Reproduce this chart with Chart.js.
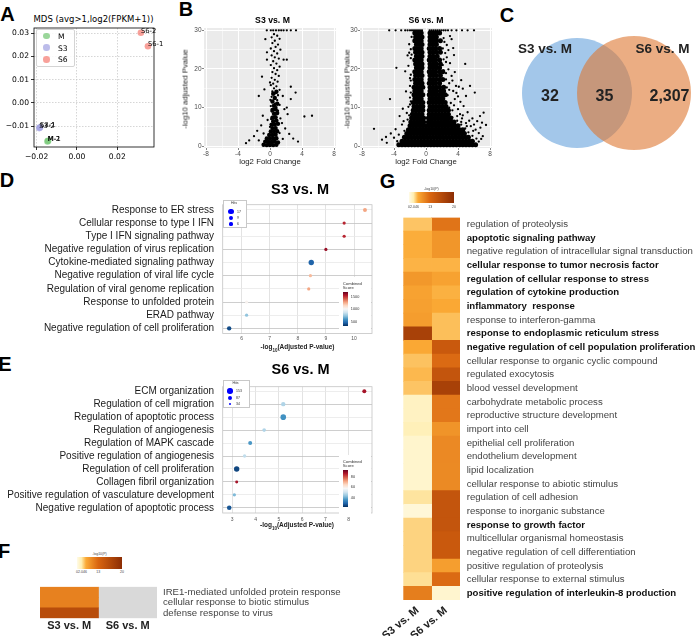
<!DOCTYPE html>
<html><head><meta charset="utf-8"><title>Figure</title>
<script src="https://cdn.jsdelivr.net/npm/chart.js"></script>
<style>
html,body{margin:0;padding:0;background:#fff;}
#root{position:relative;width:696px;height:636px;overflow:hidden;font-family:"Liberation Sans",Arial,sans-serif;color:#000;background:#fff;}
#root canvas{position:absolute;}
.t{position:absolute;white-space:nowrap;line-height:1;}
.box{position:absolute;box-sizing:border-box;}
</style></head>
<body><div id="root"></div>
<script>
// ================= DATA =================
// Panel A (MDS)
const mdsSamples=['M-1','M-2','S3-1','S3-2','S6-1','S6-2'];
const mdsGroupOf=['M','M','S3','S3','S6','S6'];
const mdsX=[-0.0143,-0.0146,-0.0183,-0.0187,0.0352,0.0317];
const mdsY=[-0.0162,-0.0165,-0.0105,-0.0108,0.0243,0.0301];
const mdsGroups=['M','S3','S6'];
const aXTicks=[-0.02,0.00,0.02];
const aYTicks=[-0.01,0.00,0.01,0.02,0.03];

// Panel B (volcano) [log2FC, -log10 padj]
const volXTicks=[-8,-4,0,4,8];
const volYTicks=[0,10,20,30];
const volXGrid=[-8,-6,-4,-2,0,2,4,6,8];
const volYGrid=[0,5,10,15,20,25,30];
const s3Core=[
[-0.8,0.4],[-0.4,0.3],[0,0.3],[0.4,0.3],[0.8,0.4],
[-0.6,1.2],[-0.2,1.1],[0.2,1.1],[0.6,1.2],[1.0,1.0],
[-0.4,2.0],[0,2.0],[0.4,2.0],[0.8,2.1],
[-0.1,2.9],[0.3,2.9],[0.7,3.0],[0.1,3.8],[0.5,3.8],[0.9,3.9],
[0.3,4.7],[0.7,4.7],[0.2,5.6],[0.6,5.6],[1.0,5.8],[0.4,6.5],[0.8,6.6],
[0.3,7.4],[0.7,7.5],[0.5,8.4],[0.9,8.6],[0.3,9.4],[0.7,9.6],
[0.5,10.5],[0.9,11.0],[0.3,11.6],[0.6,12.5],[0.4,13.6],[0.8,14.1]];
const s3TopX=[-0.4,0.1,0.4,0.75,1.1,1.4,1.7,2.1,2.6,3.25];
const s3Scatter=[
[0.5,29],[0.9,28.6],[0.2,28.2],[1.2,27.8],[0.6,27.3],[-0.58,27.7],[0.3,26.7],[1.0,26.3],[0.7,25.7],[0.1,25.3],
[1.3,25.0],[0.5,24.6],[-0.38,24.3],[0.9,24.0],[0.2,23.5],[0.6,23.0],[1.1,22.7],[-0.38,22.4],[1.7,22.4],[2.1,22.4],
[0.4,22.0],[0.8,21.4],[0.1,21.0],[1.2,20.6],[0.5,20.2],[0.9,19.7],[0.3,19.2],[0.7,18.7],[-1.0,18.0],[1.1,18.2],
[0.2,17.7],[0.6,17.2],[0.95,16.7],[0.4,16.2],[0.1,15.8],[0.8,15.5],[2.6,15.4],[-0.7,14.7],[0.5,15.0],[1.2,14.6],
[0.3,14.2],[3.2,13.9],[0.7,13.7],[1.0,13.2],[-1.4,13.0],[1.6,13.0],[0.2,12.8],[0.5,12.4],[2.6,12.2],[0.9,11.9],
[0.3,11.5],[0.6,11.0],[1.2,10.7],[0.1,10.4],[2.1,10.0],[0.8,10.1],[0.4,9.7],[1.8,9.6],[1.0,9.2],[0.2,9.0],
[0.6,8.6],[2.2,8.3],[-0.9,7.9],[5.25,7.9],[4.3,7.7],[1.3,7.2],[-0.3,6.8],[1.5,6.0],[-1.1,5.4],[1.9,4.6],
[-1.6,4.0],[2.4,3.2],[-2.0,2.6],[2.9,2.0],[-2.6,1.5],[3.5,1.2],[-3.0,0.8],[1.6,1.9],[-1.4,1.5],[1.2,3.4],
[-0.8,3.3],[0.0,5.0],[0.15,7.0],[0.05,12.0],[0.0,16.5]];
const s6CoreRows=[
[29.3,-1.4,-1.0,-0.6,0.5,0.9,1.3,1.7],
[28.3,-1.3,-0.9,-0.5,0.5,0.9,1.3],
[27.3,-1.4,-1.0,-0.6,0.5,0.9,1.3,1.8],
[26.3,-1.2,-0.8,-0.5,0.5,0.9,1.3],
[25.3,-1.4,-1.0,-0.6,0.4,0.8,1.2,1.7],
[24.3,-1.3,-0.9,-0.5,0.5,0.9,1.3,1.8],
[23.3,-1.2,-0.8,-0.5,0.5,0.9,1.4],
[22.3,-1.4,-1.0,-0.6,0.4,0.8,1.2,1.7],
[21.3,-1.3,-0.9,-0.5,0.5,0.9,1.3,1.8],
[20.3,-1.2,-0.8,-0.5,0.5,0.9,1.3,1.7],
[19.3,-1.4,-1.0,-0.6,0.4,0.8,1.2,1.7,2.1],
[18.3,-1.3,-0.9,-0.5,0.5,0.9,1.3,1.8],
[17.3,-1.4,-1.0,-0.6,0.5,0.9,1.3,1.7,2.1],
[16.3,-1.3,-0.9,-0.5,0.4,0.8,1.2,1.7],
[15.3,-1.5,-1.1,-0.7,-0.4,0.5,0.9,1.3,1.7,2.2],
[14.3,-1.4,-1.0,-0.6,0.5,0.9,1.3,1.8,2.2],
[13.3,-1.5,-1.1,-0.7,-0.4,0.4,0.8,1.2,1.6,2.0,2.4],
[12.3,-1.4,-1.0,-0.6,0.5,0.9,1.3,1.7,2.1],
[11.3,-1.6,-1.2,-0.8,-0.4,0.4,0.8,1.2,1.6,2.0,2.4],
[10.3,-1.5,-1.1,-0.7,-0.4,0.5,0.9,1.3,1.7,2.1,2.5],
[9.3,-1.6,-1.2,-0.8,-0.4,0.4,0.8,1.2,1.6,2.0,2.4,2.8],
[8.3,-1.7,-1.3,-0.9,-0.5,0.4,0.8,1.2,1.6,2.0,2.4,2.8],
[7.3,-1.8,-1.4,-1.0,-0.6,-0.3,0.3,0.7,1.1,1.5,1.9,2.3,2.7,3.1],
[6.3,-1.9,-1.5,-1.1,-0.7,-0.3,0.3,0.7,1.1,1.5,1.9,2.3,2.7,3.1,3.5],
[5.3,-2.0,-1.6,-1.2,-0.8,-0.4,0,0.4,0.8,1.2,1.6,2.0,2.4,2.8,3.2,3.6,4.0],
[4.3,-2.2,-1.8,-1.4,-1.0,-0.6,-0.2,0.2,0.6,1.0,1.4,1.8,2.2,2.6,3.0,3.4,3.8,4.2,4.6],
[3.3,-2.4,-2.0,-1.6,-1.2,-0.8,-0.4,0,0.4,0.8,1.2,1.6,2.0,2.4,2.8,3.2,3.6,4.0,4.4,4.8],
[2.3,-2.7,-2.3,-1.9,-1.5,-1.1,-0.7,-0.3,0.1,0.5,0.9,1.3,1.7,2.1,2.5,2.9,3.3,3.7,4.1,4.5,4.9,5.3],
[1.3,-3.0,-2.6,-2.2,-1.8,-1.4,-1.0,-0.6,-0.2,0.2,0.6,1.0,1.4,1.8,2.2,2.6,3.0,3.4,3.8,4.2,4.6,5.0,5.4,5.8],
[0.4,-3.4,-3.0,-2.6,-2.2,-1.8,-1.4,-1.0,-0.6,-0.2,0.2,0.6,1.0,1.4,1.8,2.2,2.6,3.0,3.4,3.8,4.2,4.6,5.0,5.4,5.8,6.2]];
const s6TopX=[-4.6,-3.8,-3.1,-2.6,-2.3,-2.0,-1.75,-1.5,-1.25,-1.0,-0.75,-0.5,0.45,0.7,0.95,1.2,1.45,1.7,1.95,2.2,2.45,2.75,3.2,3.8,4.5,5.2,6.0];
const s6Scatter=[
[-3.7,20.3],[-2.2,20.8],[-2.1,26.4],[-1.9,25.1],[-2.0,15.6],[-4.5,12.2],[-1.9,22.8],[-1.9,18.5],[-2.0,12.6],[-2.0,10.8],
[-2.4,8.6],[-2.3,6.9],[-3.0,5.6],[-2.7,4.0],[-3.4,3.0],[-4.0,2.2],[-4.9,0.9],[-5.5,1.7],[-6.5,4.5],[-3.6,1.3],
[-1.8,28.3],[-1.8,23.7],[-1.9,17.0],[-1.9,13.9],[-2.9,9.7],[-2.1,8.0],
[-2.3,23.5],[-2.0,17.6],[-2.5,14.2],[-2.2,10.2],[-3.3,7.8],[-2.8,6.5],[-3.8,4.4],[-4.4,3.3],[-5.0,2.4],[-2.1,24.2],[-1.9,11.6],[-2.6,19.4],
[3.0,28.5],[3.2,27.7],[2.2,22.5],[2.8,19.9],[3.75,15.6],[3.6,12.2],[5.5,15.6],[6.1,13.9],[4.7,10.4],[6.75,7.8],
[7.2,8.7],[4.25,8.3],[2.2,28.0],[2.1,25.3],[2.4,24.1],[2.1,21.0],[2.5,18.9],[2.5,17.3],[2.6,15.2],[2.7,13.2],
[3.1,11.2],[2.9,10.0],[3.3,9.3],[3.3,7.5],[3.9,6.6],[4.4,5.6],[4.9,4.6],[5.3,3.6],[5.8,2.7],[6.3,2.0],
[6.6,1.2],[4.5,7.2],[5.0,6.0],[5.6,5.2],[6.2,4.3],[7.0,6.1],[7.5,5.5],[3.4,14.3],[4.0,12.9],[2.9,16.3],
[3.2,18.2],[4.4,17.1],[2.6,26.2],[3.5,23.6],[4.9,21.3],[2.8,24.9],
[2.3,27.0],[2.6,23.0],[3.0,21.5],[2.2,19.6],[3.3,17.0],[2.9,14.6],[3.8,13.8],[4.3,11.5],[3.5,10.6],[4.0,9.6],
[5.2,8.8],[4.6,8.0],[5.8,7.2],[6.4,6.5],[3.9,7.8],[5.4,6.6],[6.0,5.6],[6.8,4.8],[4.4,6.3],[5.1,5.2],
[6.6,3.4],[7.1,2.6],[5.9,4.0],[6.9,1.9],[3.6,19.2],[4.1,15.4],[5.0,13.0],[4.6,14.9],[2.5,21.8],[3.4,25.4]];

// Panel C (Venn)
const vennSets=['S3 vs. M','S6 vs. M'];
const vennCounts=[32,35,2307];

// Panel D (S3 vs. M enrichment)
const dTerms=['Response to ER stress','Cellular response to type I IFN','Type I IFN signaling pathway','Negative regulation of virus replication','Cytokine-mediated signaling pathway','Negative regulation of viral life cycle','Regulation of viral genome replication','Response to unfolded protein','ERAD pathway','Negative regulation of cell proliferation'];
const dLogP=[10.39,9.65,9.65,9.0,8.48,8.45,8.39,6.18,6.18,5.56];
const dHits=[9,6,6,6,17,6,6,6,6,11];
const dScore=[1290,1540,1540,1610,470,1240,1290,1040,750,410];
const dXTicks=[6,7,8,9,10];
const dHitsLegend=[17,9,6];
const dScoreTicks=[1500,1000,500];
const dScoreRange=[340,1700];

// Panel E (S6 vs. M enrichment)
const eTerms=['ECM organization','Regulation of cell migration','Regulation of apoptotic process','Regulation of angiogenesis','Regulation of MAPK cascade','Positive regulation of angiogenesis','Regulation of cell proliferation','Collagen fibril organization','Positive regulation of vasculature development','Negative regulation of apoptotic process'];
const eLogP=[8.67,5.19,5.19,4.37,3.77,3.53,3.19,3.19,3.09,2.87];
const eHits=[84,100,165,70,84,60,153,47,60,111];
const eScore=[88,47,36,47,37,49,25,88,42,27];
const eXTicks=[3,4,5,6,7,8];
const eHitsLegend=[153,87,34];
const eScoreTicks=[80,60,40];
const eScoreRange=[22,94];

// Panel F heatmap (-log10 P)
const fTerms=['IRE1-mediated unfolded protein response','cellular response to biotic stimulus','defense response to virus'];
const fCols=['S3 vs. M','S6 vs. M'];
const fS3=[10.2,10.2,16];
const fS6=[null,null,null];

// Panel G heatmap (-log10 P)
const gTerms=['regulation of proteolysis','apoptotic signaling pathway','negative regulation of intracellular signal transduction','cellular response to tumor necrosis factor','regulation of cellular response to stress','regulation of cytokine production','inflammatory  response','response to interferon-gamma','response to endoplasmic reticulum stress','negative regulation of cell population proliferation','cellular response to organic cyclic compound','regulated exocytosis','blood vessel development','carbohydrate metabolic process','reproductive structure development','import into cell','epithelial cell proliferation','endothelium development','lipid localization','cellular response to abiotic stimulus','regulation of cell adhesion','response to inorganic substance','response to growth factor','multicellular organismal homeostasis','negative regulation of cell differentiation','positive regulation of proteolysis','cellular response to external stimulus','positive regulation of interleukin-8 production'];
const gBold=[0,1,0,1,1,1,1,0,1,1,0,0,0,0,0,0,0,0,0,0,0,0,1,0,0,0,0,1];
const gCols=['S3 vs. M','S6 vs. M'];
const gS3=[4.5,5.8,5.8,5.5,7.8,6.8,7,7.3,17.5,6.2,4.6,5.2,4.5,1.4,1.4,1.7,1.0,1.0,1.0,1.0,2.6,0.6,3.6,3.6,3.6,3.6,2.9,10.5];
const gS6=[11.5,8,8,5.5,6.8,5.6,6.2,4.8,4.8,14.5,12.5,15,17.5,11.2,11.2,8.2,9.3,9.3,9.2,9.2,15,15,15,14.5,14.5,7.2,12.5,0.9];
const heatTicks=[0,2.04,6,13,20];

// ================= STYLE =================
const A_COL=['rgba(120,200,120,0.75)','rgba(160,160,225,0.7)','rgba(245,130,120,0.75)'];
const RDBU=[[0,'#053061'],[0.1,'#2166ac'],[0.2,'#4393c3'],[0.3,'#92c5de'],[0.4,'#d1e5f0'],[0.5,'#f7f7f7'],[0.6,'#fddbc7'],[0.7,'#f4a582'],[0.8,'#d6604d'],[0.9,'#b2182b'],[1,'#67001f']];
const HEAT_COL=['#fffbe8','#ffeeb0','#fbaa35','#d96510','#8c2d04'];
const HEAT=heatTicks.map((v,i)=>[v,HEAT_COL[i]]);
const heatBarPos=[0,0.1,0.2,0.47,1];
const VENN_LAYOUT=[{x:77,y:68,r:55},{x:134,y:68,r:57}];
const VENN_COL=['rgba(163,199,234,1)','rgba(222,118,48,0.6)'];

Chart.defaults.animation=false;
Chart.defaults.font.family='"Liberation Sans", Arial, sans-serif';
Chart.defaults.plugins.legend.display=false;
Chart.defaults.plugins.tooltip.enabled=false;
Chart.defaults.events=[];
Chart.defaults.layout.autoPadding=false;

const root=document.getElementById('root');
function canvasAt(l,t,w,h){const c=document.createElement('canvas');c.width=w;c.height=h;c.style.left=l+'px';c.style.top=t+'px';c.style.width=w+'px';c.style.height=h+'px';root.appendChild(c);return c;}
function text(html,x,y,css,ax,ay,rot){const d=document.createElement('div');d.className='t';d.innerHTML=html;d.style.cssText+=`left:${x}px;top:${y}px;`+(css||'');const tx={l:'0',c:'-50%',r:'-100%'}[ax||'c'];const ty={t:'0',m:'-50%',b:'-100%'}[ay||'m'];d.style.transform=`translate(${tx},${ty})`+(rot?` rotate(${rot}deg)`:'');root.appendChild(d);return d;}
function box(x,y,w,h,css){const d=document.createElement('div');d.className='box';d.style.cssText+=`left:${x}px;top:${y}px;width:${w}px;height:${h}px;`+(css||'');root.appendChild(d);return d;}
function hexToRgb(h){return [parseInt(h.slice(1,3),16),parseInt(h.slice(3,5),16),parseInt(h.slice(5,7),16)];}
function interp(stops,v){
  if(v<=stops[0][0])return 'rgb('+hexToRgb(stops[0][1]).join(',')+')';
  for(let i=1;i<stops.length;i++){if(v<=stops[i][0]){const p0=stops[i-1][0],p1=stops[i][0];const a=hexToRgb(stops[i-1][1]),b=hexToRgb(stops[i][1]);const t=(v-p0)/(p1-p0);return 'rgb('+a.map((x,k)=>Math.round(x+(b[k]-x)*t)).join(',')+')';}}
  return 'rgb('+hexToRgb(stops[stops.length-1][1]).join(',')+')';
}
const setTicks=arr=>(s=>{s.ticks=arr.map(v=>({value:v}));});
const fixW=w=>(s=>{s.width=w;});
const fixH=h=>(s=>{s.height=h;});
const frame=(col,lw)=>({id:'frame',afterDraw(ch){const a=ch.chartArea,c=ch.ctx;c.save();c.strokeStyle=col;c.lineWidth=lw;c.strokeRect(a.left,a.top,a.right-a.left,a.bottom-a.top);c.restore();}});
const panelBg=col=>({id:'panelBg',beforeDraw(ch){const a=ch.chartArea,c=ch.ctx;c.save();c.fillStyle=col;c.fillRect(a.left,a.top,a.right-a.left,a.bottom-a.top);c.restore();}});
const fmt2=v=>(v<0?'\u2212':'')+Math.abs(v).toFixed(2);

// ================= PANEL LETTERS =================
[['A',7.5,13.5],['B',186,8.5],['C',507,15],['D',7,179.5],['E',5,364],['F',4,551],['G',387.5,180.5]].forEach(l=>text(l[0],l[1],l[2],'font:bold 20px "Liberation Sans",Arial,sans-serif;'));

// ================= PANEL A =================
text('MDS (avg&gt;1,log2(FPKM+1))',93.5,18.5,'font:8.5px "DejaVu Sans";');
const cA=canvasAt(0,0,172,165);
new Chart(cA,{type:'scatter',
  data:{datasets:mdsGroups.map((g,gi)=>({label:g,data:mdsSamples.map((s,i)=>({x:mdsX[i],y:mdsY[i],name:s,g:mdsGroupOf[i]})).filter(p=>p.g===g),backgroundColor:A_COL[gi],pointRadius:3.3,borderWidth:0}))},
  options:{responsive:false,layout:{padding:{top:28,right:18,left:0,bottom:0}},
    scales:{
      x:{type:'linear',min:-0.0213,max:0.0382,afterBuildTicks:setTicks(aXTicks),afterFit:fixH(18),
        ticks:{callback:v=>fmt2(v),font:{family:'"DejaVu Sans"',size:7.6},color:'#000',padding:2,maxRotation:0,autoSkip:false},
        grid:{color:'#c4c4c4',lineWidth:0.7,tickColor:'#000',tickLength:3,tickWidth:0.8},border:{display:false,dash:[1.5,1.5]}},
      y:{type:'linear',min:-0.0189,max:0.03215,afterBuildTicks:setTicks(aYTicks),afterFit:fixW(34),
        ticks:{callback:v=>fmt2(v),font:{family:'"DejaVu Sans"',size:7.6},color:'#000',padding:2,autoSkip:false},
        grid:{color:'#c4c4c4',lineWidth:0.7,tickColor:'#000',tickLength:3,tickWidth:0.8},border:{display:false,dash:[1.5,1.5]}}}},
  plugins:[frame('#000',0.8),{id:'mdsLabels',afterDatasetsDraw(ch){const c=ch.ctx;c.save();c.font='6.8px "DejaVu Sans"';c.fillStyle='#000';ch.data.datasets.forEach((ds,di)=>{ch.getDatasetMeta(di).data.forEach((el,i)=>{c.fillText(ds.data[i].name,el.x,el.y);});});c.restore();}}]
});
box(36,29,39,38,'border:0.8px solid #d4d4d4;border-radius:2px;background:rgba(255,255,255,0.85);');
mdsGroups.forEach((g,i)=>{const y=36+i*11.7;box(43.4,y-3.3,6.6,6.6,`border-radius:50%;background:${A_COL[i]};`);text(g,58,y,'font:7.6px "DejaVu Sans";','l','m');});

// ================= PANEL B =================
function volcano(cv,core,scat,coreR,padR,yW){
  const major=(arr,c)=>c.tick&&arr.includes(c.tick.value);
  return new Chart(cv,{type:'scatter',data:{datasets:[
      {data:core.map(p=>({x:p[0],y:p[1]})),pointRadius:coreR,backgroundColor:'#000',borderWidth:0},
      {data:scat.map(p=>({x:p[0],y:p[1]})),pointRadius:1.15,backgroundColor:'#000',borderWidth:0}]},
    options:{responsive:false,layout:{padding:{top:6,right:padR}},
      scales:{
        x:{type:'linear',min:-8.25,max:8.25,afterBuildTicks:setTicks(volXGrid),afterFit:fixH(24),
          ticks:{callback:v=>volXTicks.includes(v)?String(v):'',font:{size:6.5},color:'#4d4d4d',padding:0.5,maxRotation:0,autoSkip:false},
          grid:{color:'#ffffff',lineWidth:c=>major(volXTicks,c)?1:0.5,tickColor:c=>major(volXTicks,c)?'#333':'rgba(0,0,0,0)',tickLength:2,tickWidth:0.6},border:{display:false}},
        y:{type:'linear',min:-0.45,max:30.6,afterBuildTicks:setTicks(volYGrid),afterFit:fixW(yW),
          ticks:{callback:v=>volYTicks.includes(v)?String(v):'',font:{size:6.5},color:'#4d4d4d',padding:0.5,autoSkip:false},
          grid:{color:'#ffffff',lineWidth:c=>major(volYTicks,c)?1:0.5,tickColor:c=>major(volYTicks,c)?'#333':'rgba(0,0,0,0)',tickLength:2,tickWidth:0.6},border:{display:false}}}},
    plugins:[panelBg('#ebebeb')]});
}
volcano(canvasAt(178,22,160,150),s3Core,s3Scatter.concat(s3TopX.map(x=>[x,30])),2.2,2,26);
const s6Core=[];s6CoreRows.forEach(r=>{for(let i=1;i<r.length;i++)s6Core.push([r[i],r[0]]);});
volcano(canvasAt(338,22,157,150),s6Core,s6Scatter.concat(s6TopX.map(x=>[x,30])),2.5,3,22);
text('S3 vs. M',272.5,20,'font:bold 8.7px "Liberation Sans";');
text('S6 vs. M',426,19.5,'font:bold 8.7px "Liberation Sans";');
text('-log10 adjusted Pvalue',185,88.5,'font:7.8px "Liberation Sans";color:#1a1a1a;','c','m',-90);
text('-log10 adjusted Pvalue',347,88.5,'font:7.8px "Liberation Sans";color:#1a1a1a;','c','m',-90);
text('log2 Fold Change',270,161,'font:7.8px "Liberation Sans";color:#1a1a1a;');
text('log2 Fold Change',426,161,'font:7.8px "Liberation Sans";color:#1a1a1a;');

// ================= PANEL C =================
new Chart(canvasAt(500,25,196,140),{type:'bubble',
  data:{datasets:vennSets.map((s,i)=>({label:s,order:vennSets.length-i,data:[{x:VENN_LAYOUT[i].x,y:VENN_LAYOUT[i].y,r:VENN_LAYOUT[i].r}],backgroundColor:VENN_COL[i],borderWidth:0,radius:0}))},
  options:{responsive:false,clip:false,layout:{padding:0,autoPadding:false},scales:{x:{display:false,min:0,max:196},y:{display:false,min:0,max:140,reverse:true}}}});
text(vennSets[0],545,48,'font:bold 13.5px "Liberation Sans";color:#222;');
text(vennSets[1],662.5,48,'font:bold 13.5px "Liberation Sans";color:#222;');
const vennPos=[550,604.5,669.5];
vennCounts.forEach((n,i)=>text(n.toLocaleString('en-US'),vennPos[i],96,'font:bold 16px "Liberation Sans";color:#222;'));

// ================= PANELS D & E =================
function enrich(cv,terms,logp,hits,score,xT,xr,yr,rK,cr,xH,xPad){
  return new Chart(cv,{type:'bubble',
    data:{datasets:[{data:terms.map((t,i)=>({x:logp[i],y:i,r:rK*Math.sqrt(hits[i])})),backgroundColor:score.map(s=>interp(RDBU,(s-cr[0])/(cr[1]-cr[0]))),borderWidth:0,radius:0}]},
    options:{responsive:false,clip:false,layout:{padding:{top:8,right:4}},
      scales:{
        x:{type:'linear',min:xr[0],max:xr[1],afterBuildTicks:setTicks(xT),afterFit:fixH(xH),
          ticks:{font:{size:5},color:'#555',padding:xPad,maxRotation:0,autoSkip:false},
          grid:{color:'#dcdcdc',lineWidth:0.8,drawTicks:false},border:{display:false}},
        y:{type:'linear',reverse:true,min:yr[0],max:yr[1],afterBuildTicks:setTicks(terms.map((t,i)=>i)),afterFit:fixW(222.7),
          ticks:{callback:v=>terms[Math.round(v)],font:{size:10},color:'#1a1a1a',padding:8.7,autoSkip:false},
          grid:{color:c=>c.index%2?'#c2c2c2':'#e8e8e8',lineWidth:0.8,drawTicks:false},border:{display:false}}}},
    plugins:[frame('#c4c4c4',0.8)]});
}
const dRK=2.7/Math.sqrt(17), eRK=2.7/Math.sqrt(153);
enrich(canvasAt(0,190,376,165),dTerms,dLogP,dHits,dScore,dXTicks,[5.33,10.64],[-0.4,9.4],dRK,dScoreRange,21.4,2);
enrich(canvasAt(0,372,376,160),eTerms,eLogP,eHits,eScore,eXTicks,[2.59,9.0],[-0.35,9.4],eRK,eScoreRange,19,3.5);
text('S3 vs. M',300,189,'font:bold 14.5px "Liberation Sans";');
text('S6 vs. M',300.5,369,'font:bold 14.5px "Liberation Sans";');
text('-log<sub style="font-size:4.5px">10</sub>(Adjusted P-value)',297.5,348,'font:bold 6.5px "Liberation Sans";color:#222;');
text('-log<sub style="font-size:4.5px">10</sub>(Adjusted P-value)',297,526,'font:bold 6.5px "Liberation Sans";color:#222;');
function hitsLegend(x,y,w,h,vals,rK,cx,cy0,dy){
  box(x,y,w,h,'background:#fff;border:0.6px solid #c8c8c8;');
  text('Hits',x+w/2-1,y+3,'font:3.5px "Liberation Sans";color:#333;');
  vals.forEach((v,i)=>{const r=rK*Math.sqrt(v);const cy=cy0+i*dy;box(cx-r,cy-r,2*r,2*r,'border-radius:50%;background:#0000ff;');text(String(v),cx+6,cy,'font:3.5px "Liberation Sans";color:#333;','l','m');});
}
hitsLegend(223,200,24,28,dHitsLegend,dRK,231,211.7,6.2);
hitsLegend(223,380,27,28,eHitsLegend,eRK,230,391,6.6);
function scoreBar(x,y,h,ticks,cr){
  box(x-4,y-15,32,h+22,'background:#fff;');
  text('Combined',x-0.5,y-9.5,'font:4.2px "Liberation Sans";color:#333;','l','m');
  text('Score',x-0.5,y-5,'font:4.2px "Liberation Sans";color:#333;','l','m');
  box(x,y,5,h,'background:linear-gradient(to top,'+RDBU.map(s=>s[1]+' '+(s[0]*100)+'%').join(',')+');');
  ticks.forEach(v=>{const ty=y+h-(v-cr[0])/(cr[1]-cr[0])*h;text(String(v),x+7.5,ty,'font:3.8px "Liberation Sans";color:#333;','l','m');});
}
scoreBar(343.3,292.3,33.4,dScoreTicks,dScoreRange);
scoreBar(343.3,470,36.7,eScoreTicks,eScoreRange);

// ================= PANELS F & G =================
function heatmap(cv,terms,cols,vals,bold,o){
  return new Chart(cv,{type:'bar',
    data:{labels:terms,datasets:cols.map((c,ci)=>({label:c,data:terms.map(()=>1),backgroundColor:vals[ci].map(v=>v==null?'#d9d9d9':interp(HEAT,v)),borderWidth:0,barPercentage:1,categoryPercentage:1}))},
    options:{indexAxis:'y',responsive:false,layout:{padding:{left:o.padL,top:o.padT,right:0,bottom:0}},
      scales:{
        x:{type:'linear',stacked:true,min:0,max:cols.length,afterBuildTicks:setTicks(cols.map((c,i)=>i+0.5)),afterFit:fixH(o.xH),
          ticks:{callback:(v,i)=>cols[i],font:{size:11,weight:'bold'},color:'#222',maxRotation:o.rot,minRotation:o.rot,padding:o.xPad,autoSkip:false},
          grid:{display:false,drawTicks:false},border:{display:false}},
        y:{type:'category',stacked:true,position:'right',afterFit:fixW(o.yW),
          ticks:{font:c=>({size:9.6,weight:bold[c.index]?'bold':'normal'}),color:c=>bold[c.index]?'#111':'#444',padding:o.yPad,autoSkip:false},
          grid:{display:false,drawTicks:false},border:{display:false}}}}});
}
heatmap(canvasAt(20,575,340,61),fTerms,fCols,[fS3,fS6],fTerms.map(()=>0),{padL:20,padT:6.7,yW:203,xH:17.7,rot:0,xPad:1,yPad:6});
heatmap(canvasAt(366,205,330,431),gTerms,gCols,[gS3,gS6],gBold,{padL:37.3,padT:11,yW:236,xH:36,rot:40,xPad:4,yPad:6.7});
function heatBar(x,y,w,h){
  box(x,y,w,h,'background:linear-gradient(to right,'+HEAT_COL.map((c,i)=>c+' '+(heatBarPos[i]*100)+'%').join(',')+');');
  text('-log10(P)',x+w/2,y-3,'font:3.5px "Liberation Sans";color:#444;');
  heatTicks.forEach((v,i)=>text(String(v),x+heatBarPos[i]*w,y+h+3.5,'font:3.5px "Liberation Sans";color:#444;'));
}
heatBar(409,192,45,11);
heatBar(77,557,45,11.5);
</script>
</body></html>
